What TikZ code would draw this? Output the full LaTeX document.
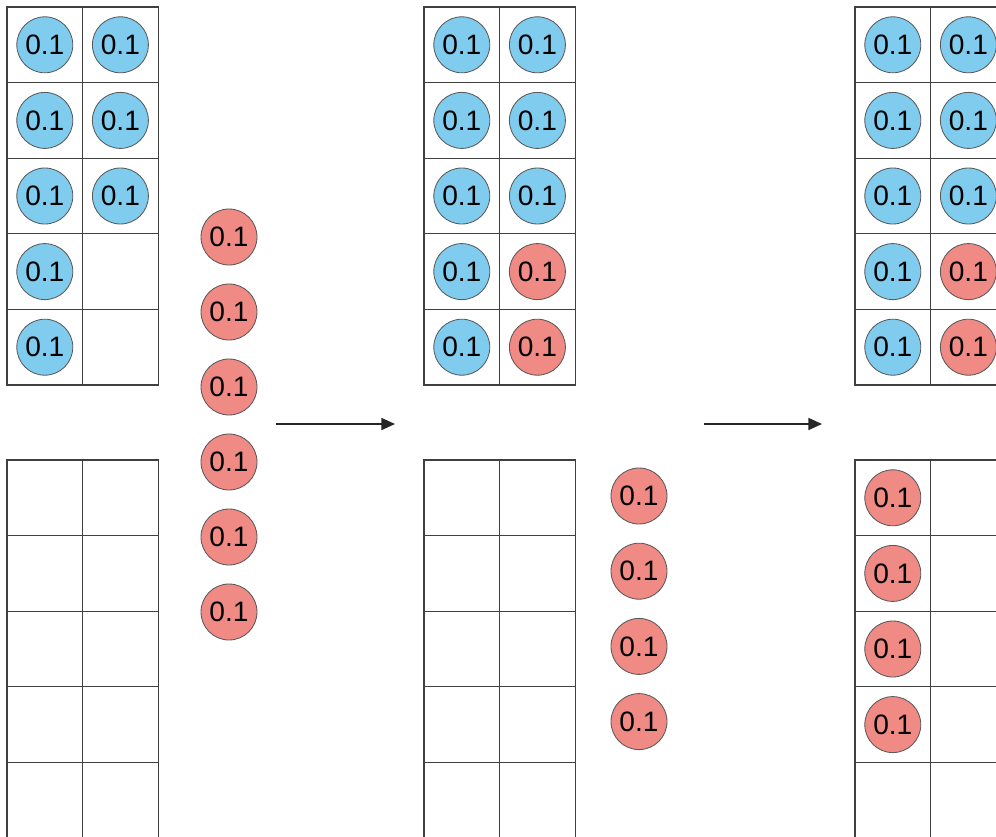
\documentclass[tikz,border=0pt]{standalone}
\usepackage{fontspec}
\setmainfont{Liberation Sans}
\usetikzlibrary{arrows.meta}

\definecolor{dotblue}{HTML}{80CCEE}
\definecolor{dotred}{HTML}{F08A84}

\begin{document}
\begin{tikzpicture}[
    cell/.style={rectangle, draw=black!75, line width=0.8pt, minimum size=1.89cm, inner sep=0pt},
    dot/.style={circle, draw=black!65, line width=0.6pt, minimum size=1.4cm, inner sep=0pt, font=\fontsize{20}{23}\selectfont},
    bluedot/.style={dot, fill=dotblue},
    reddot/.style={dot, fill=dotred},
    step_arrow/.style={-{Triangle[length=0.34cm, width=0.3cm]}, line width=1.1pt, black!85}
]
    \useasboundingbox (0,0) rectangle (24.9,-20.925);

    % --- GRIDS: two columns, five rows above and below ---
    \foreach \g/\gx in {A/0.175, B/10.6, C/21.375} {
        \foreach \r in {1,...,5} {
            \foreach \c in {1,2} {
                \node[cell] (\g-t-\r-\c) at (\gx+1.89*\c-0.945, -0.175-1.89*\r+0.945) {};
                \node[cell] (\g-b-\r-\c) at (\gx+1.89*\c-0.945, -11.5-1.89*\r+0.945) {};
            }
        }
    }

    % --- STATE 1 ---
    \foreach \r in {1,...,5} \node[bluedot] (A-d-\r-1) at (A-t-\r-1) {0.1};
    \foreach \r in {1,2,3} \node[bluedot] (A-d-\r-2) at (A-t-\r-2) {0.1};
    % waiting red ones
    \foreach \i in {1,...,6} \node[reddot] (A-w-\i) at (5.725, -5.925-1.875*\i+1.875) {0.1};

    % --- STATE 2 ---
    \foreach \r in {1,...,5} \node[bluedot] (B-d-\r-1) at (B-t-\r-1) {0.1};
    \foreach \r in {1,2,3} \node[bluedot] (B-d-\r-2) at (B-t-\r-2) {0.1};
    \foreach \r in {4,5} \node[reddot] (B-d-\r-2) at (B-t-\r-2) {0.1};
    \foreach \i in {1,...,4} \node[reddot] (B-w-\i) at (15.975, -12.4-1.88*\i+1.88) {0.1};

    % --- STATE 3 ---
    \foreach \r in {1,...,5} \node[bluedot] (C-d-\r-1) at (C-t-\r-1) {0.1};
    \foreach \r in {1,2,3} \node[bluedot] (C-d-\r-2) at (C-t-\r-2) {0.1};
    \foreach \r in {4,5} \node[reddot] (C-d-\r-2) at (C-t-\r-2) {0.1};
    \foreach \r in {1,...,4} \node[reddot] (C-e-\r-1) at (C-b-\r-1) {0.1};

    % --- ARROWS ---
    \coordinate (a1-s) at (6.9,-10.6);
    \coordinate (a1-e) at (9.875,-10.6);
    \coordinate (a2-s) at (17.6,-10.6);
    \coordinate (a2-e) at (20.55,-10.6);
    \draw[step_arrow] (a1-s) -- (a1-e);
    \draw[step_arrow] (a2-s) -- (a2-e);

\end{tikzpicture}
\end{document}
